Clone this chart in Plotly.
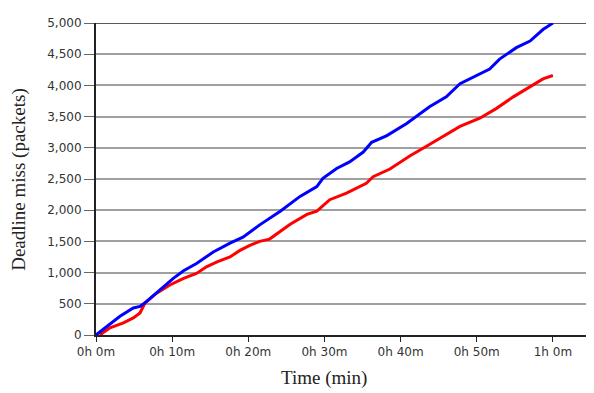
import plotly.graph_objects as go

# Time in minutes, values in packets
blue_t = [0, 1.84, 3.15, 4.9, 5.78, 6.65, 8.4, 10.15, 11.5, 13.2, 15.4, 17.6, 19.3, 21.5,
          24.2, 26.8, 29.0, 29.8, 31.6, 33.3, 35.1, 36.2, 38.2, 40.8, 43.8, 46.0, 47.8,
          50.0, 51.7, 53.0, 55.2, 57.0, 58.7, 60.0]
blue_v = [0, 169, 300, 433, 459, 538, 723, 908, 1029, 1145, 1330, 1472, 1567, 1765,
          1984, 2221, 2379, 2510, 2668, 2774, 2932, 3089, 3195, 3390, 3658, 3816, 4026,
          4158, 4263, 4421, 4605, 4711, 4895, 5000]

red_t = [0.5, 1.84, 3.6, 4.9, 5.78, 6.43, 7.96, 9.7, 11.5, 13.2, 14.5, 15.9, 17.6, 18.9,
         20.2, 21.5, 22.8, 25.5, 27.7, 29.0, 30.7, 32.9, 35.5, 36.4, 38.6, 41.2, 43.4,
         45.2, 47.8, 50.4, 52.6, 54.8, 57.0, 58.7, 60.0]
red_v = [0, 116, 195, 274, 354, 512, 670, 802, 908, 987, 1092, 1171, 1251, 1356,
         1435, 1500, 1537, 1774, 1932, 1984, 2168, 2274, 2432, 2537, 2660, 2870, 3026,
         3158, 3342, 3474, 3632, 3816, 3974, 4105, 4158]

x_tickvals = [0, 10, 20, 30, 40, 50, 60]
x_ticktext = ["0h 0m", "0h 10m", "0h 20m", "0h 30m", "0h 40m", "0h 50m", "1h 0m"]
y_tickvals = [0, 500, 1000, 1500, 2000, 2500, 3000, 3500, 4000, 4500, 5000]

fig = go.Figure()
fig.add_trace(go.Scatter(x=red_t, y=red_v, mode="lines",
                         line=dict(color="#FF0000", width=3), showlegend=False))
fig.add_trace(go.Scatter(x=blue_t, y=blue_v, mode="lines",
                         line=dict(color="#0000FF", width=3), showlegend=False))

fig.add_shape(type="line", xref="paper", yref="y", x0=0, x1=1, y0=5000, y1=5000,
              line=dict(color="#222222", width=1.5), layer="below")

fig.update_layout(
    width=594, height=393,
    margin=dict(l=88, r=8, t=10, b=66),
    paper_bgcolor="white", plot_bgcolor="white",
    font=dict(family="DejaVu Sans", size=12, color="#333333"),
    xaxis=dict(range=[0, 65.4], tickvals=x_tickvals, ticktext=x_ticktext,
               showgrid=False, zeroline=False, showline=True, linecolor="#222222",
               linewidth=2, ticks="outside", ticklen=5, tickcolor="#222222"),
    yaxis=dict(range=[0, 5000], tickvals=y_tickvals, tickformat=",",
               showgrid=True, gridcolor="#A0A0A0", gridwidth=1.5, zeroline=False,
               showline=True, linecolor="#222222", linewidth=2,
               ticks="outside", ticklen=10, tickcolor="#666666"),
    annotations=[
        dict(text="Time (min)", xref="x", yref="paper", x=30, y=-0.139,
             showarrow=False, yanchor="middle", xanchor="center",
             font=dict(family="Liberation Serif", size=19, color="#222222")),
        dict(text="Deadline miss (packets)", xref="paper", yref="paper",
             x=-0.155, y=0.5, textangle=-90, showarrow=False,
             xanchor="center", yanchor="middle",
             font=dict(family="Liberation Serif", size=19, color="#222222")),
    ],
)

fig.write_html("out.html")
